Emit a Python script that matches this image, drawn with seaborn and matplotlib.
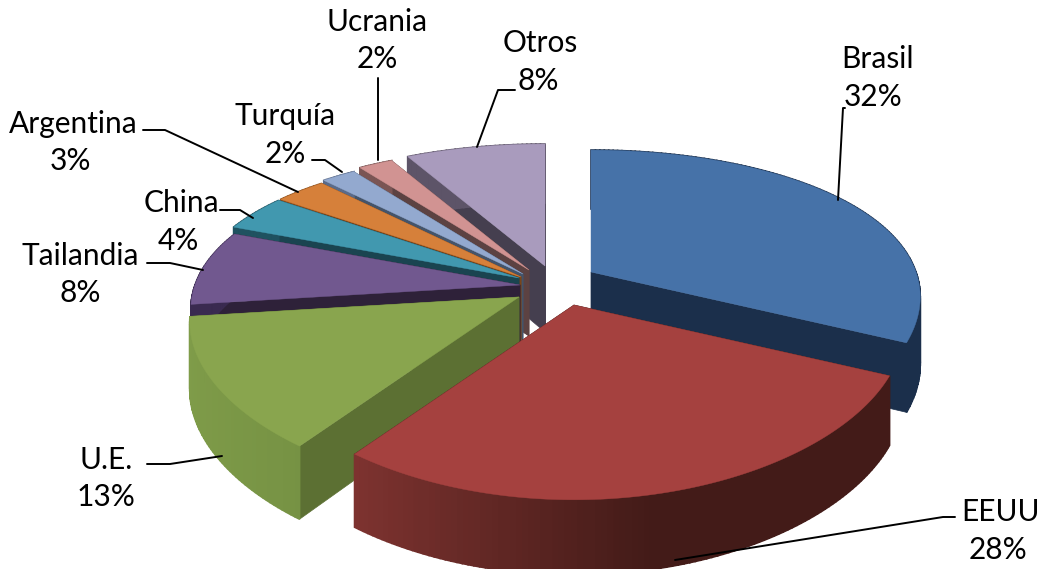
import numpy as np
import matplotlib
matplotlib.use("Agg")
import matplotlib.pyplot as plt
import seaborn as sns

paises = ["Brasil", "EEUU", "U.E.", "Tailandia", "China", "Argentina", "Turquía", "Ucrania", "Otros"]
valores = [32, 28, 13, 8, 4, 3, 2, 2, 8]

colores = ["#4672a8", "#a5413f", "#89a54e", "#71588f", "#4198af", "#d6803a", "#93a9cf", "#d19392", "#a99bbd"]
lado_claro = ["#1b2f4b", "#9c3f3c", "#7f9c49", "#3a2a50", "#1f5260", "#8a4e1c", "#5a6b8a", "#7a5554", "#5d5468"]
lado_oscuro = ["#1b2f4b", "#431b18", "#66803a", "#3a2a50", "#1f5260", "#8a4e1c", "#5a6b8a", "#7a5554", "#5d5468"]
corte = ["#1b2f4b", "#43201c", "#5c7033", "#2e2139", "#1a4450", "#7a4519", "#44546a", "#5c4242", "#453f4f"]

# desplazamiento de cada porcion (pixeles)
desp_x = [63, 46, -9, -8, -9, -7, -5, 1, 17]
desp_y = [0, 33, 25, 13, 6, 5, 2, -2, -6]

# texto: x, y nombre, x, y porcentaje
pos_nombre = [(877, 59), (1001, 512), (106, 460), (80, 256), (181, 203), (73, 124), (285, 116), (377, 22), (540, 43)]
pos_pct = [(873, 97), (998, 550), (106, 497), (80, 293), (178, 241), (70, 161), (285, 154), (377, 59), (538, 81)]
guias = [
    [(845, 108), (843, 108), (838, 200)],
    [(955, 517), (943, 517), (675, 560)],
    [(147, 464), (170, 464), (222, 456)],
    [(147, 263), (170, 263), (203, 270)],
    [(220, 210), (240, 210), (253, 218)],
    [(143, 130), (165, 130), (298, 192)],
    [(312, 160), (325, 160), (342, 172)],
    [(378, 78), (378, 160)],
    [(515, 90), (498, 90), (477, 147)],
]

cx, cy = 528, 272
rx, ry = 325, 150
px, py = 0.16, 0.23
alto = 66


def proy(x, y, z, dx, dy):
    wx = 1 / (1 + px * y)
    wy = 1 / (1 + py * y)
    wz = 1 / (1 + 0.12 * y)
    return cx + dx + rx * x * wx, cy + dy - ry * y * wy + z * wz


sns.set_theme(style="white")
plt.rcParams["font.family"] = ["Lato", "DejaVu Sans"]

fig = plt.figure(figsize=(10.41, 5.69), dpi=100)
ax = fig.add_axes([0, 0, 1, 1])
ax.set_xlim(0, 1041)
ax.set_ylim(569, 0)
ax.axis("off")

fin = np.cumsum(valores) / np.sum(valores) * 2 * np.pi
inicio = np.concatenate([[0], fin[:-1]])
medio = (inicio + fin) / 2

# de atras hacia adelante
orden = np.argsort(-np.cos(medio))
for i in orden:
    dx, dy = desp_x[i], desp_y[i]
    t = np.linspace(inicio[i], fin[i], max(int(valores[i] * 4), 12))
    x, y = np.sin(t), np.cos(t)
    # cortes radiales
    for k in [0, -1]:
        esq = [proy(0, 0, 0, dx, dy), proy(x[k], y[k], 0, dx, dy), proy(x[k], y[k], alto, dx, dy), proy(0, 0, alto, dx, dy)]
        ax.fill([q[0] for q in esq], [q[1] for q in esq], color=corte[i], lw=0.5, zorder=1)
    # borde exterior con degradado
    degr = sns.blend_palette([lado_claro[i], lado_oscuro[i]], 101)
    for j in range(len(t) - 1):
        p = [proy(x[j], y[j], 0, dx, dy), proy(x[j + 1], y[j + 1], 0, dx, dy), proy(x[j + 1], y[j + 1], alto, dx, dy), proy(x[j], y[j], alto, dx, dy)]
        # la sombra avanza de izquierda a derecha
        f = np.clip((x[j] + 1) / 1.2, 0, 1)
        ax.fill([q[0] for q in p], [q[1] for q in p], color=degr[int(f * 100)], lw=1.2, zorder=1)
    # tapa
    xs, ys = proy(x, y, 0, dx, dy)
    xa, ya = proy(0, 0, 0, dx, dy)
    ax.fill(np.r_[xa, xs], np.r_[ya, ys], color=colores[i], lw=0.3, zorder=1)

for i in range(len(paises)):
    ax.text(*pos_nombre[i], paises[i], ha="center", va="center", fontsize=21.5, color="black")
    ax.text(*pos_pct[i], f"{valores[i]}%", ha="center", va="center", fontsize=21.5, color="black")
    ax.plot([q[0] for q in guias[i]], [q[1] for q in guias[i]], color="black", lw=1.4, zorder=3)

fig.savefig("out.png", dpi=100)
plt.close()
